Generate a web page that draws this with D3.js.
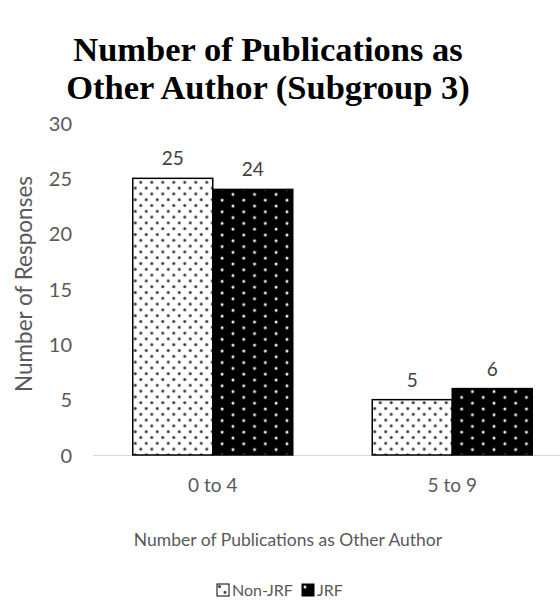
<!DOCTYPE html>
<html>
<head>
<meta charset="utf-8">
<script src="https://cdn.jsdelivr.net/npm/d3@7"></script>
<style>
  html, body { margin: 0; padding: 0; background: #fff; }
  svg { display: block; }
</style>
</head>
<body>
<svg id="chart" width="560" height="605"></svg>
<script>
// Responses per publication-count bucket, by group
const categories = ["0 to 4", "5 to 9"];
const seriesNames = ["Non-JRF", "JRF"];
const nonJrfValues = [25, 5];
const jrfValues = [24, 6];
const yTicks = [0, 5, 10, 15, 20, 25, 30];
const titleLines = ["Number of Publications as", "Other Author (Subgroup 3)"];
const xTitle = "Number of Publications as Other Author";
const yTitle = "Number of Responses";

const svg = d3.select("#chart");
const labelFont = "Lato, 'Liberation Sans', Arial, sans-serif";
const textGray = "#595959";

// Dotted fills: grey dots on white, white dots on black
const defs = svg.append("defs");
const pLight = defs.append("pattern").attr("id", "dotsLight")
  .attr("patternUnits", "userSpaceOnUse").attr("width", 11).attr("height", 11.6);
pLight.append("rect").attr("width", 11).attr("height", 11.6).attr("fill", "#fff");
[[2.5, 2.5], [8, 8.3]].forEach(([cx, cy]) =>
  pLight.append("circle").attr("cx", cx).attr("cy", cy).attr("r", 1.5).attr("fill", "#3a3a3a"));

const pDark = defs.append("pattern").attr("id", "dotsDark")
  .attr("patternUnits", "userSpaceOnUse").attr("width", 21.6).attr("height", 11.6);
pDark.append("rect").attr("width", 21.6).attr("height", 11.6).attr("fill", "#000");
[[3, 3], [13.8, 8.8]].forEach(([cx, cy]) =>
  pDark.append("circle").attr("cx", cx).attr("cy", cy).attr("r", 1.5).attr("fill", "#eee"));

const fills = ["url(#dotsLight)", "url(#dotsDark)"];

// Scales
const x0 = d3.scaleBand().domain(categories).range([93, 572]).paddingInner(0).paddingOuter(0);
const x1 = d3.scaleBand().domain(seriesNames).range([0, 160]);
const y = d3.scaleLinear().domain([0, 30]).range([455, 123]);

// Title
svg.append("g").selectAll("text").data(titleLines).join("text")
  .attr("x", 268).attr("y", (d, i) => 61 + i * 38)
  .attr("text-anchor", "middle")
  .attr("font-family", "'Liberation Serif', 'Times New Roman', serif")
  .attr("font-weight", "bold").attr("font-size", 34.5).attr("fill", "#000")
  .text(d => d);

// Y axis tick labels
const yAxis = d3.axisLeft(y).tickValues(yTicks).tickSize(0).tickPadding(0);
const yg = svg.append("g").attr("transform", "translate(72,0)").call(yAxis);
yg.select(".domain").remove();
yg.selectAll("text").attr("font-family", labelFont).attr("font-size", 20)
  .attr("fill", textGray).attr("dy", "0.35em");

// X axis baseline and category labels
const xAxis = d3.axisBottom(x0).tickSize(0).tickPadding(0);
const xg = svg.append("g").attr("transform", "translate(0,455)").call(xAxis);
xg.select(".domain").remove();
xg.selectAll(".tick text").attr("font-family", labelFont).attr("font-size", 19)
  .attr("fill", textGray).attr("dy", "1.95em");
svg.append("line").attr("x1", 93).attr("x2", 560).attr("y1", 455.5).attr("y2", 455.5)
  .attr("stroke", "#d9d9d9").attr("stroke-width", 1.2);

// Bars
const rows = categories.map((c, i) => ({ cat: c, vals: [nonJrfValues[i], jrfValues[i]] }));
const groups = svg.append("g").selectAll("g").data(rows).join("g")
  .attr("transform", d => `translate(${x0(d.cat) + (x0.bandwidth() - 160) / 2},0)`);

groups.selectAll("rect").data(d => d.vals.map((v, j) => ({ v, j }))).join("rect")
  .attr("x", d => x1(seriesNames[d.j]))
  .attr("y", d => y(d.v))
  .attr("width", x1.bandwidth())
  .attr("height", d => y(0) - y(d.v))
  .attr("fill", d => fills[d.j])
  .attr("stroke", "#000").attr("stroke-width", 1.5);

groups.selectAll("text").data(d => d.vals.map((v, j) => ({ v, j }))).join("text")
  .attr("x", d => x1(seriesNames[d.j]) + x1.bandwidth() / 2)
  .attr("y", d => y(d.v) - 13)
  .attr("text-anchor", "middle")
  .attr("font-family", labelFont).attr("font-size", 19).attr("fill", "#404040")
  .text(d => d.v);

// Axis titles
svg.append("text").attr("x", 288).attr("y", 546).attr("text-anchor", "middle")
  .attr("font-family", labelFont).attr("font-size", 17.5).attr("fill", textGray)
  .text(xTitle);
svg.append("text").attr("transform", "translate(32,284) rotate(-90)")
  .attr("text-anchor", "middle")
  .attr("font-family", labelFont).attr("font-size", 22.5).attr("fill", textGray)
  .text(yTitle);

// Legend
const legendItems = [
  { name: seriesNames[0], fill: fills[0], x: 217 },
  { name: seriesNames[1], fill: fills[1], x: 302 }
];
const lg = svg.append("g").selectAll("g").data(legendItems).join("g")
  .attr("transform", d => `translate(${d.x},584)`);
lg.append("rect").attr("width", 12).attr("height", 12)
  .attr("fill", d => d.fill).attr("stroke", "#000").attr("stroke-width", 1);
lg.append("text").attr("x", 15).attr("y", 11.5)
  .attr("font-family", labelFont).attr("font-size", 16).attr("fill", textGray)
  .text(d => d.name);
</script>
</body>
</html>
